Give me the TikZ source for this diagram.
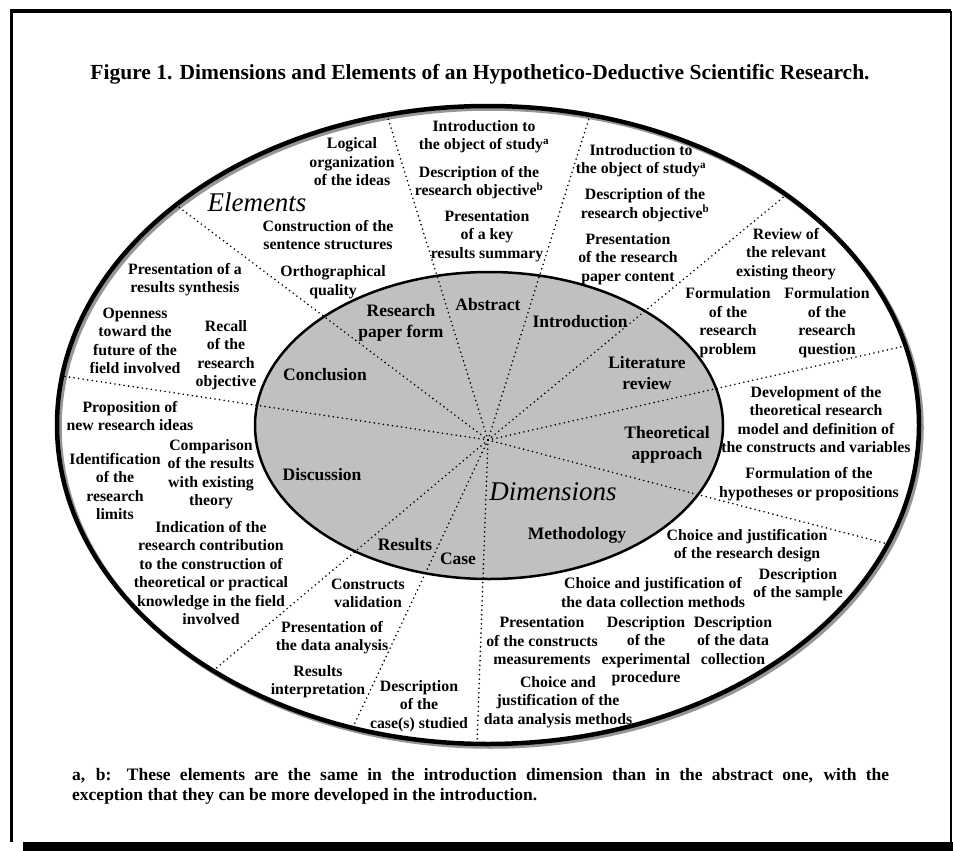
\documentclass[tikz,border=0pt]{standalone}
\usepackage{fontspec}
\setmainfont{Liberation Serif}
\usetikzlibrary{calc,positioning}
\definecolor{shade}{RGB}{192,192,192}
\definecolor{rimshade}{RGB}{150,150,150}

\begin{document}
\begin{tikzpicture}[x=1pt,y=-1pt]
    \tikzstyle{elem}=[align=center, inner sep=0pt, font=\fontsize{15.8}{18.5}\selectfont\bfseries]
    \tikzstyle{dimtext}=[align=center, inner sep=0pt, font=\fontsize{17.5}{20.5}\selectfont\bfseries]
    \tikzstyle{bigword}=[inner sep=0pt, font=\fontsize{27}{30}\selectfont\itshape]
    \tikzstyle{spoke}=[line width=1.8pt, line cap=round, dash pattern=on 0pt off 4.6pt]

    \useasboundingbox (0,0) rectangle (953,851);
    \fill[white] (0,0) rectangle (953,851);
    \fill (23,842) rectangle (953,851);
    \draw[line width=3.5pt] (11.5,842) -- (11.5,11) -- (951,11);
    \draw[line width=2pt] (951,11) -- (951,842);

    \node[font=\fontsize{21.5}{25}\selectfont\bfseries, inner sep=0pt, anchor=base] (title) at (480,79.5)
        {Figure 1. Dimensions and Elements of an Hypothetico-Deductive Scientific Research.};

    \coordinate (outer) at (488,425);
    \coordinate (core) at (489,425.5);
    \coordinate (hub) at (488,440);
    \draw[rimshade, line width=4.5pt] ($(outer)+(2.5,2.5)$) ellipse (431 and 319);
    \draw[line width=4.5pt] (outer) ellipse (431 and 319);
    \draw[fill=shade, line width=2.5pt] (core) ellipse (234 and 153.5);

    \coordinate (e1) at (62,376);
    \coordinate (e2) at (176,205);
    \coordinate (e3) at (387,115);
    \coordinate (e4) at (590,115);
    \coordinate (e5) at (786,195);
    \coordinate (e6) at (905,346);
    \coordinate (e7) at (888,544);
    \coordinate (e8) at (477,744);
    \coordinate (e9) at (353,727);
    \coordinate (e10) at (214,670);
    \foreach \e in {e1,e2,e3,e4,e5,e6,e7,e8,e9,e10}
        \draw[spoke] (hub) -- (\e);

    \node[dimtext] (form) at (401,323) {Research\\paper form};
    \node[dimtext] (abstract) at (488,305) {Abstract};
    \node[dimtext] (intro) at (580,322) {Introduction};
    \node[dimtext] (litrev) at (647,373) {Literature\\review};
    \node[dimtext] (theory) at (667,445) {Theoretical\\approach};
    \node[dimtext] (method) at (577,535) {Methodology};
    \node[dimtext] (case) at (458,559) {Case};
    \node[dimtext] (results) at (405,545) {Results};
    \node[dimtext] (discuss) at (322,475) {Discussion};
    \node[dimtext] (concl) at (325,375) {Conclusion};

    \node[bigword] (elements) at (257,202) {Elements};
    \node[bigword] (dimensions) at (553,492) {Dimensions};

    \node[elem] (logic) at (352,162) {Logical\\organization\\of the ideas};
    \node[elem] (sentence) at (328,235) {Construction of the\\sentence structures};
    \node[elem] (ortho) at (333,282) {Orthographical\\quality};
    \node[elem] (absobject) at (484,136.5) {Introduction to\\the object of study\textsuperscript{a}};
    \node[elem] (absaim) at (479,182.5) {Description of the\\research objective\textsuperscript{b}};
    \node[elem] (abssum) at (487,236) {Presentation\\of a key\\results summary};
    \node[elem] (introobject) at (641,160.5) {Introduction to\\the object of study\textsuperscript{a}};
    \node[elem] (introaim) at (645,205) {Description of the\\research objective\textsuperscript{b}};
    \node[elem] (introcont) at (628,259) {Presentation\\of the research\\paper content};
    \node[elem] (review) at (786,254) {Review of\\the relevant\\existing theory};
    \node[elem] (problem) at (728,322.5) {Formulation\\of the\\research\\problem};
    \node[elem] (question) at (827,322.5) {Formulation\\of the\\research\\question};
    \node[elem] (model) at (816,419.5) {Development of the\\theoretical research\\model and definition of\\the constructs and variables};
    \node[elem] (hypo) at (809,484) {Formulation of the\\hypotheses or propositions};
    \node[elem] (design) at (747,545.5) {Choice and justification\\of the research design};
    \node[elem] (sample) at (798,584.5) {Description\\of the sample};
    \node[elem] (collect) at (653,592.5) {Choice and justification of\\the data collection methods};
    \node[elem] (measure) at (542,641) {Presentation\\of the constructs\\measurements};
    \node[elem] (procedure) at (646,651) {Description\\of the\\experimental\\procedure};
    \node[elem] (datacoll) at (733,640.5) {Description\\of the data\\collection};
    \node[elem] (analysis) at (558,702) {Choice and\\justification of the\\data analysis methods};
    \node[elem] (cases) at (419,706) {Description\\of the\\case(s) studied};
    \node[elem] (interp) at (318,681.5) {Results\\interpretation};
    \node[elem] (dataan) at (332,637.5) {Presentation of\\the data analysis};
    \node[elem] (valid) at (368,593.5) {Constructs\\validation};
    \node[elem] (contrib) at (211,573) {Indication of the\\research contribution\\to the construction of\\theoretical or practical\\knowledge in the field\\involved};
    \node[elem] (compare) at (211,474) {Comparison\\of the results\\with existing\\theory};
    \node[elem] (limits) at (115,486.5) {Identification\\of the\\research\\limits};
    \node[elem] (newideas) at (130,416) {Proposition of\\new research ideas};
    \node[elem] (future) at (135,341) {Openness\\toward the\\future of the\\field involved};
    \node[elem] (recall) at (226,355) {Recall\\of the\\research\\objective};
    \node[elem] (synth) at (185,279.5) {Presentation of a\\results synthesis};

    \node[anchor=north west, inner sep=0pt, text width=817pt, align=justify,
          font=\fontsize{17.5}{20.5}\selectfont\bfseries] (note) at (72,768)
        {a, b: These elements are the same in the introduction dimension than in the abstract one, with the\linebreak exception that they can be more developed in the introduction.};
\end{tikzpicture}
\end{document}
